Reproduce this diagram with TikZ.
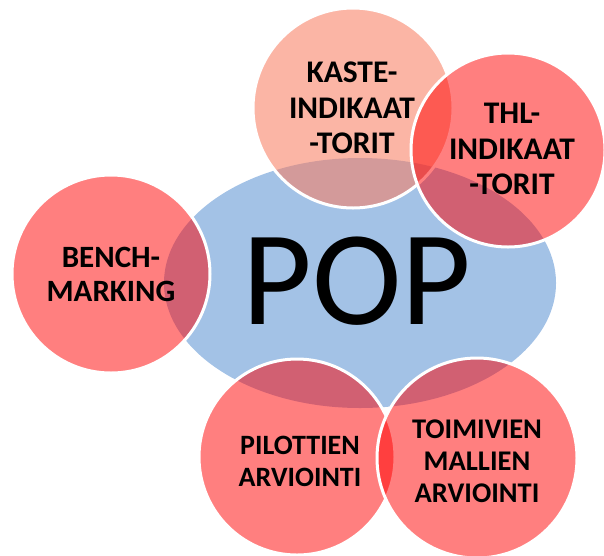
\documentclass[tikz,border=0pt]{standalone}
\usepackage{fontspec}
\setmainfont{Carlito}
\definecolor{popblue}{RGB}{163,194,230}
\definecolor{kastecol}{RGB}{248,124,96}
\begin{document}
\begin{tikzpicture}[x=1pt,y=-1pt,
  bubble/.style={circle, inner sep=0pt, draw=white, line width=3pt, fill=red, fill opacity=0.5, draw opacity=1},
  lbl/.style={align=center, inner sep=0pt, font=\fontsize{28.5}{32}\selectfont\bfseries},
  biglbl/.style={align=center, inner sep=0pt, font=\fontsize{31.5}{35.5}\selectfont\bfseries}]
\useasboundingbox (0,0) rectangle (604,555);
\clip (0,0) rectangle (604,555);
\fill[popblue] (360,283) ellipse [x radius=196, y radius=125];
\node[bubble, fill=kastecol, fill opacity=0.565, minimum size=200pt] (kaste) at (353,108) {};
\node[bubble, minimum size=194pt] (thl) at (508,150) {};
\node[bubble, minimum size=198pt] (bench) at (111,274) {};
\node[bubble, minimum size=196pt] (pil) at (297,457) {};
\node[bubble, minimum size=200pt] (toim) at (477,458) {};
\node[inner sep=0pt, font=\fontsize{135}{135}\selectfont] (pop) at (357,281) {POP};
\node[biglbl] (tkaste) at (352,108) {KASTE-\\INDIKAAT\\-TORIT};
\node[biglbl] (tthl) at (512,149) {THL-\\INDIKAAT\\-TORIT};
\node[biglbl, font=\fontsize{31}{34}\selectfont\bfseries] (tbench) at (111,274) {BENCH-\\MARKING};
\node[lbl, font=\fontsize{28}{32}\selectfont\bfseries] (tpil) at (300,461) {PILOTTIEN\\ARVIOINTI};
\node[lbl] (ttoim) at (477,461) {TOIMIVIEN\\MALLIEN\\ARVIOINTI};
\end{tikzpicture}
\end{document}
